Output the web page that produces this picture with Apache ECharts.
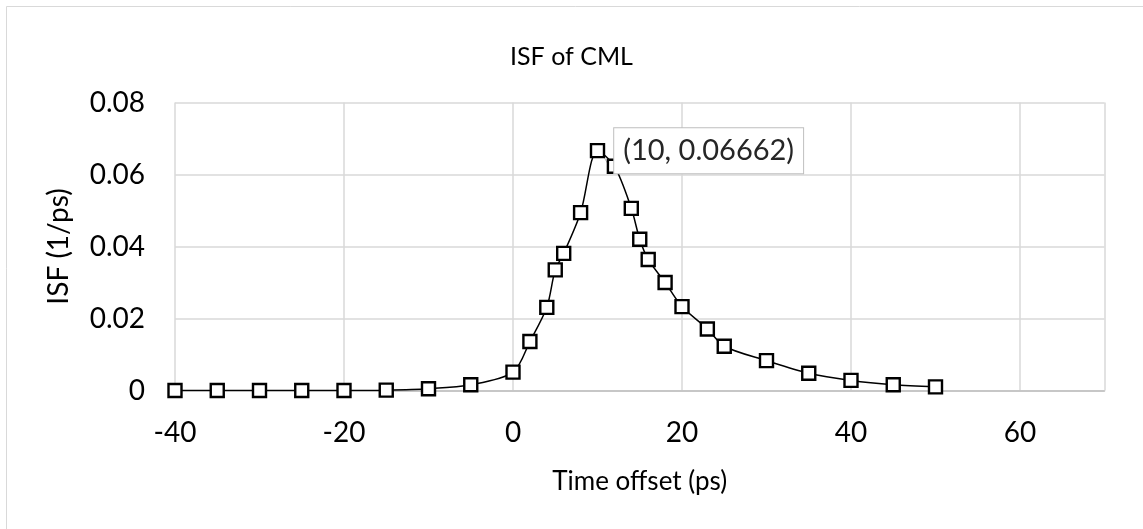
<!DOCTYPE html>
<html>
<head>
<meta charset="utf-8">
<title>ISF of CML</title>
<script src="https://cdn.jsdelivr.net/npm/echarts@6/dist/echarts.min.js"></script>
<style>
  html, body { margin: 0; padding: 0; background: #ffffff; }
  #chart { width: 1143px; height: 529px; }
</style>
</head>
<body>
<div id="chart"></div>
<script>
// Time offset (ps) and impulse sensitivity (1/ps) of the CML stage
const timeOffset = [-40, -35, -30, -25, -20, -15, -10, -5, 0, 2, 4, 5, 6, 8, 10, 12, 14, 15, 16, 18, 20, 23, 25, 30, 35, 40, 45, 50];
const isfValues  = [0, 0, 0, 0, 0, 0.0001, 0.0005, 0.0016, 0.0051, 0.0136, 0.0231, 0.0335, 0.0381, 0.0494, 0.06662, 0.0623, 0.0506, 0.0420, 0.0364, 0.0300, 0.0233, 0.0171, 0.0123, 0.0083, 0.0048, 0.0028, 0.0016, 0.0010];

// Point that carries the callout label
const calloutX = 10;

const FONT = 'Lato, "Open Sans", sans-serif';

const points = timeOffset.map((x, i) => {
  const p = { value: [x, isfValues[i]] };
  if (x === calloutX) {
    p.label = {
      show: true,
      position: 'right',
      distance: 9,
      formatter: (d) => '(' + d.value[0] + ', ' + d.value[1] + ')',
      fontFamily: FONT,
      fontSize: 29,
      color: '#262626',
      backgroundColor: '#ffffff',
      borderColor: '#bfbfbf',
      borderWidth: 1,
      padding: [9, 9, 7, 9]
    };
  }
  return p;
});

const chart = echarts.init(document.getElementById('chart'), null, { renderer: 'canvas' });

chart.setOption({
  backgroundColor: '#ffffff',
  animation: false,
  title: {
    text: 'ISF of CML',
    left: 'center',
    top: 39,
    textStyle: { fontFamily: FONT, fontSize: 25, fontWeight: 'normal', color: '#000000' }
  },
  graphic: [{
    type: 'rect',
    shape: { x: 6.5, y: 6.5, width: 1160, height: 540 },
    style: { fill: 'none', stroke: '#d9d9d9', lineWidth: 1 },
    silent: true,
    z: -1
  }],
  grid: { left: 175, right: 38.5, top: 102.5, bottom: 138.5, containLabel: false },
  xAxis: {
    type: 'value',
    min: -40,
    max: 70,
    interval: 20,
    name: 'Time offset (ps)',
    nameLocation: 'middle',
    nameGap: 78,
    nameTextStyle: { fontFamily: FONT, fontSize: 26, color: '#000000' },
    axisLine: { show: true, lineStyle: { color: '#bfbfbf', width: 1.5 } },
    axisTick: { show: false },
    axisLabel: {
      fontFamily: FONT, fontSize: 28, color: '#000000', margin: 28,
      showMaxLabel: false
    },
    splitLine: { show: true, lineStyle: { color: '#d9d9d9', width: 1.5 } }
  },
  yAxis: {
    type: 'value',
    min: 0,
    max: 0.08,
    interval: 0.02,
    name: 'ISF (1/ps)',
    nameLocation: 'middle',
    nameGap: 102,
    nameTextStyle: { fontFamily: FONT, fontSize: 28, color: '#000000' },
    axisLine: { show: false },
    axisTick: { show: false },
    axisLabel: {
      fontFamily: FONT, fontSize: 28, color: '#000000', margin: 30,
      formatter: (v) => String(Math.round(v * 100) / 100)
    },
    splitLine: { show: true, lineStyle: { color: '#d9d9d9', width: 1.5 } }
  },
  series: [{
    type: 'line',
    data: points,
    smooth: 0.3,
    symbol: 'rect',
    symbolSize: 13,
    showAllSymbol: true,
    lineStyle: { color: '#000000', width: 1.5 },
    itemStyle: { color: '#ffffff', borderColor: '#000000', borderWidth: 2.4 },
    labelLine: { show: true, lineStyle: { color: '#bfbfbf', width: 1 } },
    z: 3
  }]
});
</script>
</body>
</html>
